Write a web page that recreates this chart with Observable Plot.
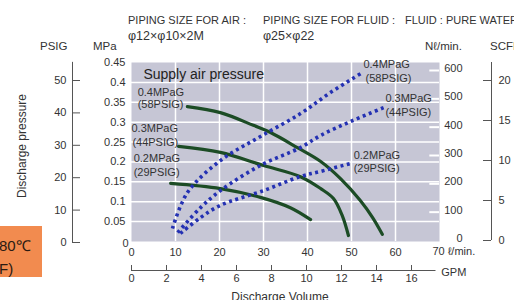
<!DOCTYPE html>
<html><head><meta charset="utf-8">
<script src="https://cdn.jsdelivr.net/npm/d3@7"></script>
<script src="https://cdn.jsdelivr.net/npm/@observablehq/plot@0.6"></script>
<style>
body{margin:0;background:#fff;}
#wrap{position:relative;width:514px;height:300px;overflow:hidden;font-family:"Liberation Sans",Arial,sans-serif;color:#333;}
#wrap svg{position:absolute;left:0;top:0;}
.lbl{position:absolute;white-space:nowrap;line-height:1;}
</style></head><body><div id="wrap"></div>
<script>
// ---------- data ----------
const flowTicks = [0, 10, 20, 30, 40, 50, 60];
const flowEnd = 70;
const mpaTicks = [0.05, 0.1, 0.15, 0.2, 0.25, 0.3, 0.35, 0.4, 0.45];
const nlTicks = [0, 100, 200, 300, 400, 500, 600];
const psigTicks = [0, 10, 20, 30, 40, 50];
const scfmTicks = [0, 5, 10, 15, 20];
const gpmTicks = [0, 2, 4, 6, 8, 10, 12, 14, 16];
const pressureNames = ["0.4MPaG", "0.3MPaG", "0.2MPaG"];
const psigNames = ["(58PSIG)", "(44PSIG)", "(29PSIG)"];

// discharge pressure (MPa) vs discharge volume (L/min)
const dp04Flow = [12.7, 20.2, 27.7, 31.6, 37.7, 43.0, 47.5, 52.0, 54.8, 57.0];
const dp04MPa  = [0.339, 0.324, 0.292, 0.274, 0.236, 0.201, 0.158, 0.103, 0.060, 0.018];
const dp03Flow = [10.7, 20.2, 30.0, 38.4, 43.0, 45.9, 47.9, 49.3];
const dp03MPa  = [0.239, 0.224, 0.191, 0.163, 0.133, 0.108, 0.065, 0.015];
const dp02Flow = [8.9, 20.2, 29.3, 36.1, 40.7];
const dp02MPa  = [0.146, 0.133, 0.111, 0.085, 0.055];

// air consumption (Nl/min) vs discharge volume (L/min)
const air04Flow = [9.3, 12.7, 20.2, 29.3, 38.4, 45.2, 52.5];
const air04Nl   = [42, 169, 282, 367, 448, 522, 593];
const air03Flow = [10.5, 15.7, 20.2, 29.3, 38.4, 43.0, 49.8, 57.3];
const air03Nl   = [28, 116, 176, 265, 328, 371, 420, 469];
const air02Flow = [11.1, 15.7, 20.2, 30.0, 38.4, 43.0, 49.8];
const air02Nl   = [25, 81, 124, 176, 226, 244, 272];

// ---------- tables ----------
const dpRows = [];
[[dp04Flow, dp04MPa], [dp03Flow, dp03MPa], [dp02Flow, dp02MPa]].forEach(([f, v], i) =>
  f.forEach((x, j) => dpRows.push({series: pressureNames[i], flow: x, value: v[j]})));
const airRows = [];
[[air04Flow, air04Nl], [air03Flow, air03Nl], [air02Flow, air02Nl]].forEach(([f, v], i) =>
  f.forEach((x, j) => airRows.push({series: pressureNames[i], flow: x, value: v[j]})));

const FONT = '"Liberation Sans",Arial,sans-serif';
const wrap = document.getElementById("wrap");
const base = {width: 514, height: 300, style: {fontFamily: FONT, fontSize: "11px", color: "#333", background: "transparent", overflow: "visible"}};
function add(svg) { wrap.appendChild(svg); }
const GREEN = "#1c4c25", BLUE = "#2431b3", AXIS = "#555";
const fmt = d => String(+d.toFixed(2));

// main: discharge pressure (MPa)
add(Plot.plot({
  ...base,
  marginLeft: 131, marginRight: 75, marginTop: 62, marginBottom: 59,
  x: {domain: [0, flowEnd], axis: null},
  y: {domain: [0, 0.45], axis: null},
  marks: [
    Plot.frame({fill: "#c6c6d5", stroke: "none"}),
    Plot.ruleX(flowTicks.slice(1), {stroke: "#fff", strokeWidth: 1.5}),
    Plot.ruleY(mpaTicks.slice(0, -1), {stroke: "#fff", strokeWidth: 1.5}),
    Plot.line(dpRows, {x: "flow", y: "value", z: "series", stroke: GREEN, strokeWidth: 3.2, curve: "catmull-rom"}),
    Plot.text(mpaTicks, {y: d => d, frameAnchor: "left", dx: -6, textAnchor: "end", text: fmt, fontSize: 11}),
    Plot.text([0], {y: d => d, frameAnchor: "left", dx: -3, dy: 2, textAnchor: "end", text: d => d, fontSize: 11}),
    Plot.text(flowTicks, {x: d => d, frameAnchor: "bottom", dy: 14, text: d => d, fontSize: 11}),
    Plot.text([flowEnd], {x: d => d, frameAnchor: "bottom", dy: 13, dx: -7, textAnchor: "start", text: d => d + " ℓ/min.", fontSize: 11}),
    Plot.text(["Supply air pressure"], {x: 2.7, y: 0.42, textAnchor: "start", fontSize: 14, fill: "#222"}),
    Plot.text(pressureNames, {x: [1.4, 0, 0.5], y: [0.375, 0.284, 0.209], textAnchor: "start", fontSize: 11}),
    Plot.text(psigNames, {x: [1.4, 0.2, 0.5], y: [0.344, 0.249, 0.173], textAnchor: "start", fontSize: 11})
  ]
}));

// air consumption (Nl/min)
add(Plot.plot({
  ...base,
  marginLeft: 131, marginRight: 75, marginTop: 70, marginBottom: 60,
  x: {domain: [0, flowEnd], axis: null},
  y: {domain: [0, 600], axis: null},
  marks: [
    Plot.ruleY(nlTicks.slice(1), {x1: 67.8, x2: flowEnd, stroke: "#fff", strokeWidth: 2}),
    Plot.line(airRows, {x: "flow", y: "value", z: "series", stroke: BLUE, strokeWidth: 3.6, strokeDasharray: "3,3.5", strokeLinecap: "butt", curve: "catmull-rom"}),
    Plot.text(nlTicks, {y: d => d, frameAnchor: "right", dx: 23, dy: -2, textAnchor: "end", text: d => d, fontSize: 11}),
    Plot.text(pressureNames, {x: [52.7, 57.7, 50.5], y: [621, 501, 300], textAnchor: "start", fontSize: 11}),
    Plot.text(psigNames, {x: [53.2, 57.7, 50.5], y: [572, 452, 254], textAnchor: "start", fontSize: 11})
  ]
}));

// PSIG axis
add(Plot.plot({
  ...base,
  marginLeft: 72, marginRight: 434, marginTop: 80, marginBottom: 58,
  x: {domain: [0, 1], axis: null},
  y: {domain: [0, 50], axis: null},
  marks: [
    Plot.ruleX([0], {y1: 0, y2: 55.6, stroke: AXIS}),
    Plot.ruleY(psigTicks, {x1: 0, x2: 1, stroke: AXIS}),
    Plot.text(psigTicks, {y: d => d, frameAnchor: "left", dx: -6, textAnchor: "end", text: d => d, fontSize: 11})
  ]
}));

// SCFM axis
add(Plot.plot({
  ...base,
  marginLeft: 483, marginRight: 23, marginTop: 80, marginBottom: 60,
  x: {domain: [0, 1], axis: null},
  y: {domain: [0, 20], axis: null},
  marks: [
    Plot.ruleX([1], {y1: 0, y2: 22.25, stroke: AXIS}),
    Plot.ruleY(scfmTicks, {x1: 0, x2: 1, stroke: AXIS}),
    Plot.text(scfmTicks, {y: d => d, frameAnchor: "right", dx: 7, textAnchor: "start", text: d => d, fontSize: 11})
  ]
}));

// GPM axis
add(Plot.plot({
  ...base,
  marginLeft: 131, marginRight: 103, marginTop: 265, marginBottom: 30,
  x: {domain: [0, 16], axis: null},
  y: {domain: [0, 1], axis: null},
  marks: [
    Plot.ruleY([0], {x1: 0, x2: 17.4, stroke: AXIS}),
    Plot.ruleX(gpmTicks, {y1: 0, y2: 1, stroke: AXIS}),
    Plot.text(gpmTicks, {x: d => d, frameAnchor: "bottom", dy: 11, text: d => d, fontSize: 11}),
    Plot.text(["GPM"], {x: 17.7, frameAnchor: "bottom", dy: 5, textAnchor: "start", fontSize: 11})
  ]
}));

// ---------- loose labels ----------
function label(text, left, cy, size, extra) {
  const d = document.createElement("div");
  d.className = "lbl";
  d.textContent = text;
  d.style.left = left + "px";
  d.style.top = (cy - size / 2) + "px";
  d.style.fontSize = size + "px";
  if (extra) Object.assign(d.style, extra);
  wrap.appendChild(d);
  return d;
}
const box = document.createElement("div");
Object.assign(box.style, {position: "absolute", left: "0px", top: "226px", width: "42px", height: "51px", background: "#f28b4f"});
wrap.insertBefore(box, wrap.firstChild);
label("80℃", -1, 245, 15, {color: "#2a1a12"});
label("F)", -1, 268, 15, {color: "#2a1a12"});

label("PIPING SIZE FOR AIR :", 128, 20, 11);
label("φ12×φ10×2M", 128, 36, 12.5);
label("PIPING SIZE FOR FLUID :", 263, 20, 11);
label("FLUID : PURE WATER", 405, 20, 11);
label("φ25×φ22", 263, 36, 12.5);
label("PSIG", 40, 47, 11.5);
label("MPa", 93, 47, 11.5);
label("Nℓ/min.", 425, 47, 11.5);
label("SCFM", 490, 47, 11.5);
label("Discharge pressure", -28, 148, 12, {width: "100px", textAlign: "center", transform: "rotate(-90deg)", transformOrigin: "50% 50%"});
label("Discharge Volume", 230, 297, 12, {width: "100px", textAlign: "center"});
</script></body></html>
